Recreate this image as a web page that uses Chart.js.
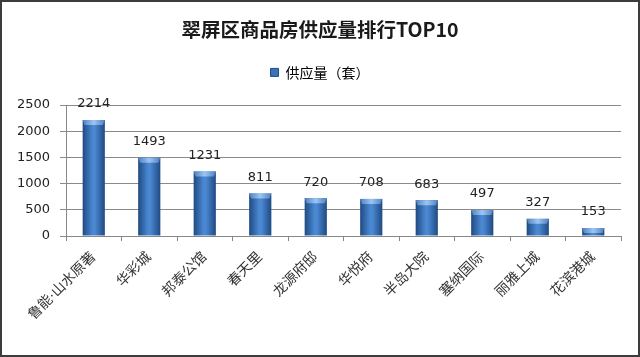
<!DOCTYPE html>
<html>
<head>
<meta charset="utf-8">
<script src="https://cdn.jsdelivr.net/npm/chart.js@4/dist/chart.umd.min.js"></script>
<style>
html,body{margin:0;padding:0;background:#fff;}
#wrap{width:640px;height:357px;position:relative;}
</style>
</head>
<body>
<div id="wrap"><canvas id="c" width="640" height="357"></canvas></div>
<script>
const categories = ['鲁能·山水原著','华彩城','邦泰公馆','春天里','龙源府邸','华悦府','半岛大院','塞纳国际','丽雅上城','花滨港城'];
const supplyValues = [2214,1493,1231,811,720,708,683,497,327,153];
const seriesName = '供应量（套）';
const chartTitle = '翠屏区商品房供应量排行TOP10';
const yTicks = [0,500,1000,1500,2000,2500];

const BAR_PCT = 0.4;

function barGradient(ctx) {
  const chart = ctx.chart;
  const xs = chart.scales && chart.scales.x;
  if (!xs || !chart.chartArea || ctx.dataIndex === undefined) return '#3a72b8';
  const cx = xs.getPixelForValue(ctx.dataIndex);
  const w = (xs.width / categories.length) * BAR_PCT;
  const g = chart.ctx.createLinearGradient(cx - w/2, 0, cx + w/2, 0);
  g.addColorStop(0, '#1f4a82');
  g.addColorStop(0.45, '#4a88d2');
  g.addColorStop(0.55, '#4a88d2');
  g.addColorStop(1, '#1f4a82');
  return g;
}

const framePlugin = {
  id: 'frame',
  beforeLayout(chart) {
    const lg = chart.legend;
    if (lg && !lg._padPatched) {
      const origFit = lg.fit.bind(lg);
      lg.fit = function() { origFit(); this.height += 15.6; };
      lg._padPatched = true;
    }
  },
  beforeDraw(chart) {
    const c = chart.ctx;
    c.save();
    c.fillStyle = '#fff';
    c.fillRect(0, 0, chart.width, chart.height);
    c.restore();
  },
  afterDraw(chart) {
    const c = chart.ctx;
    c.save();
    c.strokeStyle = '#3c3c3c';
    c.lineWidth = 2;
    c.strokeRect(1, 1, chart.width - 2, chart.height - 2);
    c.restore();
  }
};

const capPlugin = {
  id: 'caps',
  afterDatasetsDraw(chart) {
    const c = chart.ctx;
    const meta = chart.getDatasetMeta(0);
    c.save();
    meta.data.forEach((el, i) => {
      const w = el.width;
      const x0 = el.x - w/2;
      const h = Math.min(5, el.base - el.y);
      const g = c.createLinearGradient(x0, 0, x0 + w, 0);
      g.addColorStop(0, '#4f80c0');
      g.addColorStop(0.5, '#9cc6f2');
      g.addColorStop(1, '#4f80c0');
      c.fillStyle = g;
      c.beginPath();
      c.moveTo(x0, el.y);
      c.lineTo(x0 + w, el.y);
      c.lineTo(x0 + w - 2, el.y + h);
      c.lineTo(x0 + 2, el.y + h);
      c.closePath();
      c.fill();
      c.fillStyle = '#222';
      c.font = '13px "DejaVu Sans"';
      c.textAlign = 'center';
      c.textBaseline = 'middle';
      c.fillText(String(supplyValues[i]), el.x, el.y - 16);
    });
    c.restore();
  }
};

new Chart(document.getElementById('c'), {
  type: 'bar',
  data: {
    labels: categories,
    datasets: [{
      label: seriesName,
      data: supplyValues,
      backgroundColor: barGradient,
      borderWidth: 0,
      barPercentage: BAR_PCT,
      categoryPercentage: 1.0
    }]
  },
  options: {
    responsive: false,
    animation: false,
    devicePixelRatio: 1,
    layout: { padding: { left: 0, right: 0, top: 0, bottom: 0 } },
    plugins: {
      title: {
        display: true,
        text: chartTitle,
        color: '#1a1a1a',
        font: { family: '"Noto Sans CJK SC"', size: 19.5, weight: 'bold' },
        padding: { top: 18, bottom: 0 }
      },
      legend: {
        display: true,
        position: 'top',
        labels: {
          color: '#222',
          font: { family: '"Noto Sans CJK SC"', size: 14 },
          boxWidth: 8,
          boxHeight: 8,
          padding: 24,
          generateLabels(chart) {
            return [{
              text: seriesName,
              fillStyle: '#3a72b8',
              strokeStyle: '#1f4a82',
              lineWidth: 1,
              hidden: false,
              datasetIndex: 0
            }];
          }
        }
      },
      tooltip: { enabled: false }
    },
    scales: {
      x: {
        afterFit(s) { s.height = 121; },
        grid: {
          display: true,
          drawOnChartArea: false,
          drawTicks: true,
          tickLength: 5,
          color: '#888',
          offset: true
        },
        border: { display: true, color: '#888', width: 1 },
        ticks: {
          autoSkip: false,
          maxRotation: 45,
          minRotation: 45,
          color: '#333',
          padding: 8,
          font: { family: '"Liberation Serif", "Noto Sans CJK SC"', size: 14 }
        }
      },
      y: {
        min: 0,
        max: 2500,
        afterFit(s) { s.width = 66; },
        afterBuildTicks(s) { s.ticks = yTicks.map(v => ({ value: v })); },
        grid: {
          color: '#8a8a8a',
          lineWidth: 1,
          tickLength: 6
        },
        border: { display: true, color: '#888', width: 1 },
        ticks: {
          color: '#222',
          padding: 10,
          font: { family: '"DejaVu Sans"', size: 13 },
          callback: (v) => String(v)
        }
      },
      yr: {
        position: 'right',
        display: true,
        min: 0,
        max: 2500,
        afterFit(s) { s.width = 19; },
        grid: { display: false },
        border: { display: false },
        ticks: { display: false }
      }
    }
  },
  plugins: [framePlugin, capPlugin]
});
</script>
</body>
</html>
